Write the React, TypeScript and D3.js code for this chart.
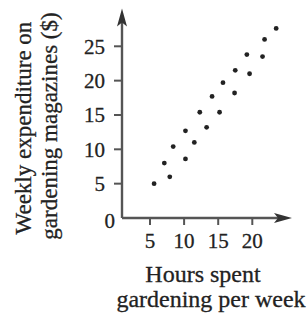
import React from "react";
import * as d3 from "d3";

const hours = [5.6, 7.1, 7.9, 8.4, 10.2, 10.2, 11.5, 12.3, 13.3, 14.1, 15.2, 15.7, 17.4, 17.5, 19.2, 19.6, 21.5, 21.8, 23.5];
const spending = [5.0, 8.0, 6.0, 10.4, 8.6, 12.7, 11.0, 15.4, 13.2, 17.7, 15.4, 19.7, 18.2, 21.5, 23.8, 21.0, 23.5, 26.0, 27.6];
const xTicks = [5, 10, 15, 20];
const yTicks = [5, 10, 15, 20, 25];
const xTitle = ["Hours spent", "gardening per week"];
const yTitle = ["Weekly expenditure on", "gardening magazines ($)"];

const W = 308;
const H = 320;
const FONT = "'Liberation Serif', 'Times New Roman', serif";
const INK = "#222";
const AXIS = "#555";

export default function App() {
  const x = d3.scaleLinear().domain([0, 25]).range([115.9, 286.4]);
  const y = d3.scaleLinear().domain([0, 25]).range([218, 46.3]);
  const ox = 122;
  const oy = y(0);
  const yTip = 8.5;
  const xTip = 292;

  return (
    <svg
      width={W}
      height={H}
      style={{ position: "fixed", left: 0, top: 0, background: "#fff" }}
      fontFamily={FONT}
    >
      <rect width={W} height={H} fill="#fff" />
      {/* axes */}
      <line x1={ox} y1={oy} x2={ox} y2={yTip + 10} stroke={AXIS} strokeWidth={2.4} />
      <line x1={ox} y1={oy} x2={xTip - 10} y2={oy} stroke={AXIS} strokeWidth={2.4} />
      <path
        d={`M${ox},${yTip} L${ox + 5},${yTip + 18} L${ox},${yTip + 14} L${ox - 5},${yTip + 18} Z`}
        fill="#333"
      />
      <path
        d={`M${xTip},${oy} L${xTip - 18},${oy - 5} L${xTip - 14},${oy} L${xTip - 18},${oy + 5} Z`}
        fill="#333"
      />
      {/* ticks */}
      {yTicks.map((t) => (
        <g key={"y" + t}>
          <line x1={ox - 8} x2={ox} y1={y(t)} y2={y(t)} stroke={AXIS} strokeWidth={2} />
          <text x={105} y={y(t)} dy="0.35em" textAnchor="end" fontSize={21} fill={INK} stroke={INK} strokeWidth={0.3}>
            {t}
          </text>
        </g>
      ))}
      <text x={115} y={oy + 3} dy="0.35em" textAnchor="end" fontSize={21} fill={INK} stroke={INK} strokeWidth={0.3}>
        0
      </text>
      {xTicks.map((t) => (
        <g key={"x" + t}>
          <line x1={x(t)} x2={x(t)} y1={oy} y2={oy + 7} stroke={AXIS} strokeWidth={2} />
          <text x={x(t)} y={248} textAnchor="middle" fontSize={21} fill={INK} stroke={INK} strokeWidth={0.3}>
            {t}
          </text>
        </g>
      ))}
      {/* points */}
      {hours.map((h, i) => (
        <circle key={i} cx={x(h)} cy={y(spending[i])} r={2.4} fill={INK} />
      ))}
      {/* x title */}
      <text x={203} y={282} textAnchor="middle" fontSize={24} fill={INK} stroke={INK} strokeWidth={0.3}>
        {xTitle[0]}
      </text>
      <text x={211} y={307} textAnchor="middle" fontSize={24} fill={INK} stroke={INK} strokeWidth={0.3}>
        {xTitle[1]}
      </text>
      {/* y title */}
      <text transform="translate(31,128) rotate(-90)" textAnchor="middle" fontSize={23} fill={INK} stroke={INK} strokeWidth={0.3}>
        {yTitle[0]}
      </text>
      <text transform="translate(57,126) rotate(-90)" textAnchor="middle" fontSize={23} fill={INK} stroke={INK} strokeWidth={0.3}>
        {yTitle[1]}
      </text>
    </svg>
  );
}
